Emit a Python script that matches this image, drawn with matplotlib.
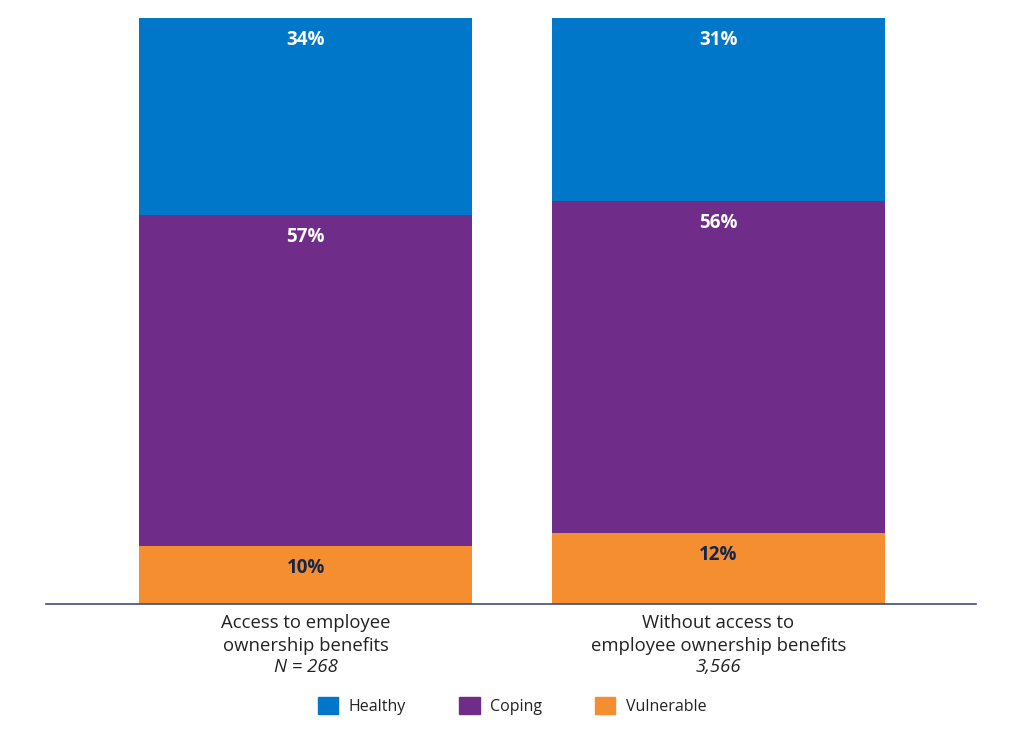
import matplotlib.pyplot as plt
from matplotlib.patches import Patch
import numpy as np

plt.rcParams['font.family'] = ['Open Sans', 'DejaVu Sans']

groups = ['Access to employee\nownership benefits', 'Without access to\nemployee ownership benefits']
sample_sizes = ['N = 268', '3,566']
series = ['Vulnerable', 'Coping', 'Healthy']
vulnerable = [10, 12]
coping = [57, 56]
healthy = [34, 31]

colors = {'Healthy': '#0077C8', 'Coping': '#6F2C88', 'Vulnerable': '#F58E31'}
label_colors = {'Healthy': 'white', 'Coping': 'white', 'Vulnerable': '#14264A'}

data = np.array([vulnerable, coping, healthy], dtype=float)
shares = data / data.sum(axis=0) * 100

fig = plt.figure(figsize=(10.24, 7.31), dpi=100)
ax = fig.add_axes([46 / 1024, 127 / 731, 930 / 1024, 586 / 731])

x = np.arange(len(groups))
bottom = np.zeros(len(groups))
for name, vals, raw in zip(series, shares, data):
    ax.bar(x, vals, 0.807, bottom=bottom, color=colors[name], linewidth=0)
    for xi, b, v, r in zip(x, bottom, vals, raw):
        ax.text(xi, b + v - 3.7, f'{int(r)}%', ha='center', va='center',
                fontsize=13.5, fontweight='bold', color=label_colors[name])
    bottom += vals

ax.set_xlim(-0.63, 1.625)
ax.set_ylim(0, 100)
ax.set_yticks([])
ax.set_xticks([])
for s in ['top', 'right', 'left']:
    ax.spines[s].set_visible(False)
ax.spines['bottom'].set_color('#3A5078')
ax.spines['bottom'].set_linewidth(1.2)

trans = ax.get_xaxis_transform()
for xi, g, n in zip(x, groups, sample_sizes):
    ax.text(xi, -0.0165, g, transform=trans, ha='center', va='top',
            fontsize=13.3, color='#222222', linespacing=1.37)
    ax.text(xi, -0.092, n, transform=trans, ha='center', va='top',
            fontsize=13.3, color='#222222', style='italic')

handles = [Patch(color=colors[s]) for s in ['Healthy', 'Coping', 'Vulnerable']]
fig.legend(handles, ['Healthy', 'Coping', 'Vulnerable'], loc='center',
           bbox_to_anchor=(512 / 1024, 1 - 706 / 731), ncol=3, frameon=False,
           fontsize=11.5, handlelength=1.3, handleheight=1.3, columnspacing=3.3,
           handletextpad=0.65, labelcolor='#222222')

fig.savefig('out.png', dpi=100)
